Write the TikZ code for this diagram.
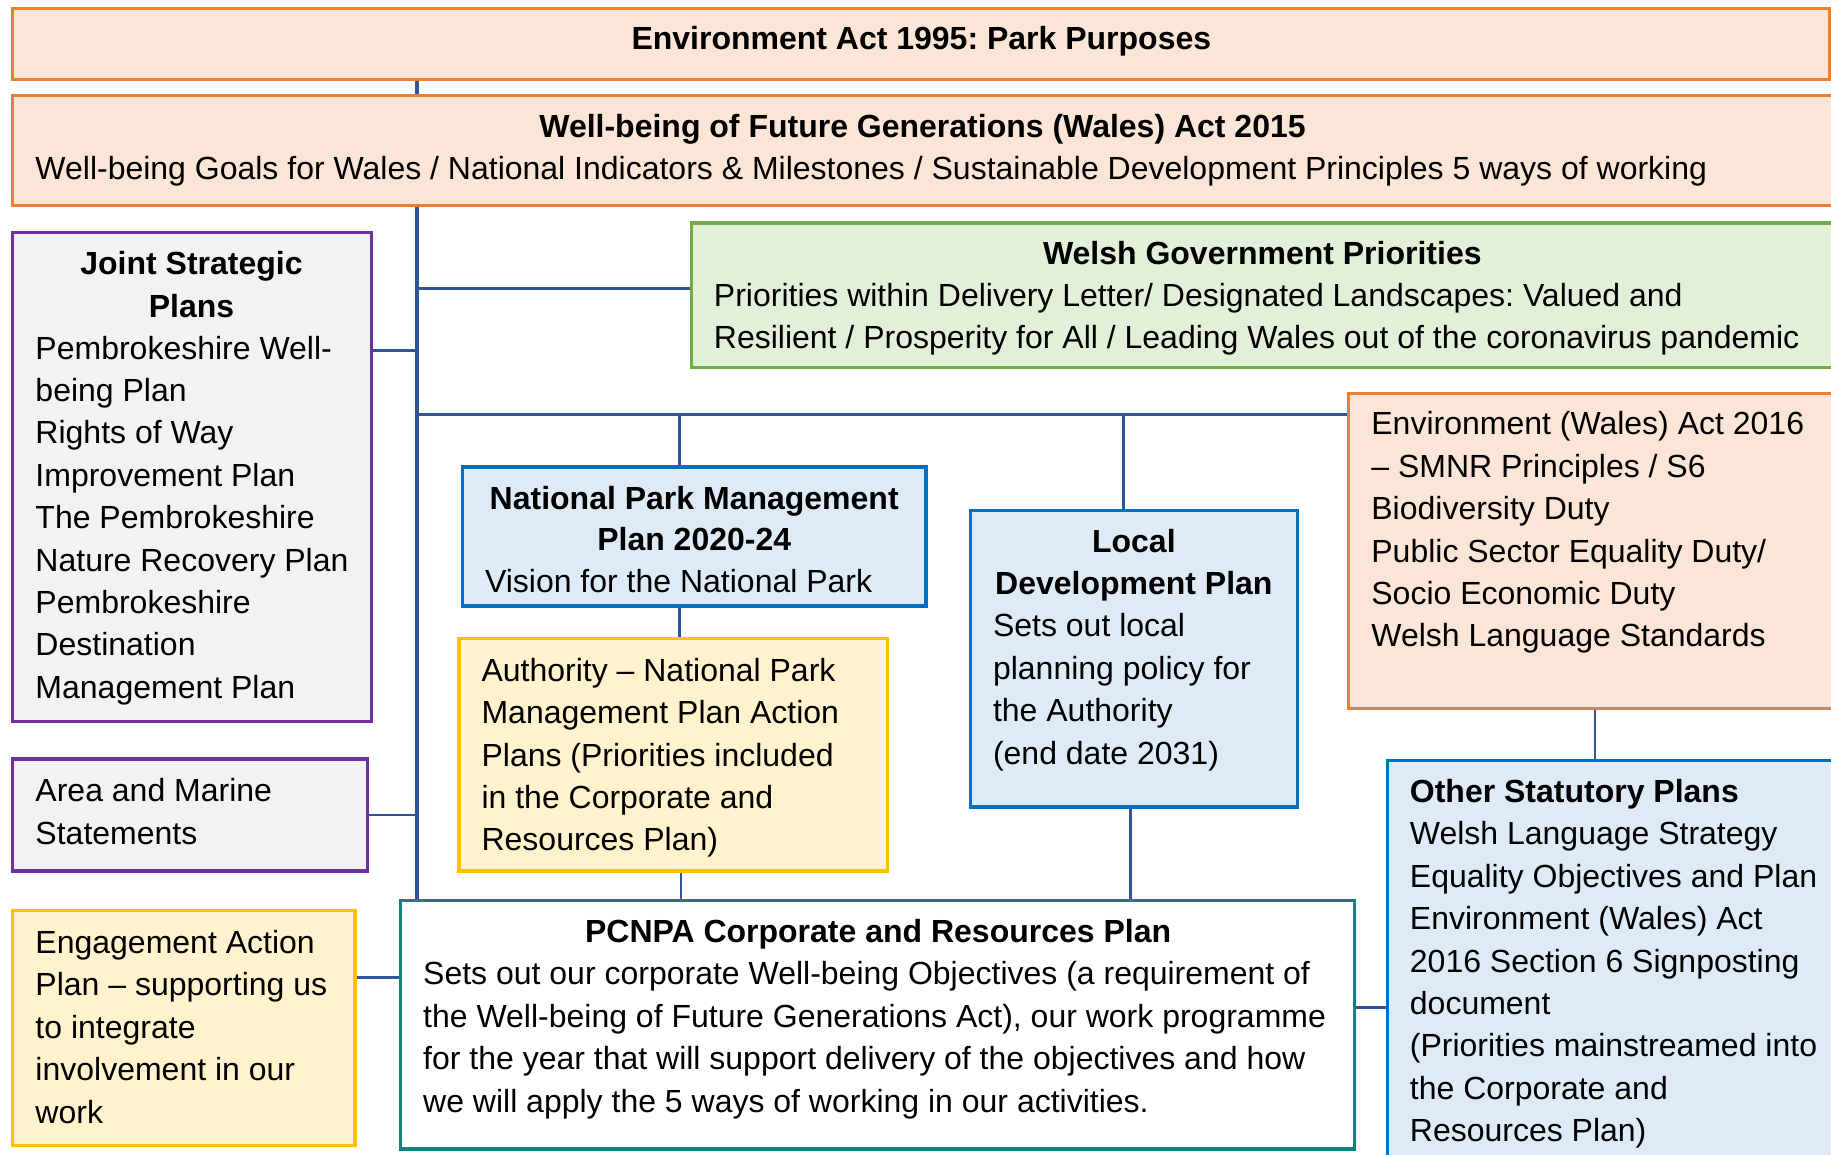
\documentclass[tikz,border=0pt]{standalone}
\usepackage{fontspec}
\setmainfont{Liberation Sans}
\usetikzlibrary{fit,backgrounds}
\frenchspacing
\definecolor{cOr}{HTML}{ED7D31}
\definecolor{cPeach}{HTML}{FBE5D6}
\definecolor{cGr}{HTML}{70AD47}
\definecolor{cGrF}{HTML}{E2F0D9}
\definecolor{cPu}{HTML}{7030A0}
\definecolor{cGray}{HTML}{F2F2F2}
\definecolor{cYe}{HTML}{FFC000}
\definecolor{cYeF}{HTML}{FFF2CC}
\definecolor{cBl}{HTML}{0070C0}
\definecolor{cBlF}{HTML}{DEEBF7}
\definecolor{cTeal}{HTML}{11827D}
\definecolor{cLine}{HTML}{2F5597}
\begin{document}
\begin{tikzpicture}[x=0.5pt,y=-0.5pt,
  box/.style={draw=#1, line width=1.4pt, inner sep=0pt},
  spine/.style={draw=cLine, line width=1.7pt},
  conn/.style={draw=cLine, line width=1.2pt},
  thin/.style={draw=cLine, line width=1pt},
  txt/.style={anchor=base west, inner sep=0pt, font=\fontsize{13.7}{18.15}\selectfont},
  ttl/.style={anchor=base, inner sep=0pt, font=\fontsize{13.7}{18.15}\selectfont\bfseries},
  ttlw/.style={anchor=base west, inner sep=0pt, font=\fontsize{13.7}{18.15}\selectfont\bfseries}]
\useasboundingbox (0,0) rectangle (1568,989);
\clip (0,0) rectangle (1568,989);

% boxes
\node[box=cOr, fill=cPeach, fit={(11,7) (1567,68)}] (top) {};
\node[box=cOr, fill=cPeach, fit={(11,82) (1585,176)}] (wfg) {};
\node[box=cPu, fill=cGray, fit={(11,199) (318,618)}] (jsp) {};
\node[box=cGr, fill=cGrF, fit={(592,191) (1585,315)}] (wg) {};
\node[box=cPu, fill=cGray, fit={(11,650) (315,746)}] (area) {};
\node[box=cYe, fill=cYeF, fit={(11,780) (304,981)}] (eng) {};
\node[box=cBl, fill=cBlF, fit={(396,400) (793,519)}] (npmp) {};
\node[box=cYe, fill=cYeF, fit={(393,547) (760,746)}] (auth) {};
\node[box=cBl, fill=cBlF, fit={(831,437) (1111,691)}] (ldp) {};
\node[box=cOr, fill=cPeach, fit={(1155,337) (1585,607)}] (env) {};
\node[box=cBl, fill=cBlF, fit={(1188,651) (1585,1010)}] (other) {};
\node[box=cTeal, fill=white, fit={(343,771) (1160,984)}] (pcnpa) {};

% connectors
\coordinate (spx) at (357,0);
\coordinate (jwg) at (357,247);
\coordinate (jjsp) at (357,300);
\coordinate (jbr) at (357,355);
\coordinate (dnp) at (582,355);
\coordinate (dld) at (962,355);
\coordinate (jeng) at (343,837);
\coordinate (jot) at (1160,863);
\coordinate (xa) at (583,0);
\coordinate (xl) at (968,0);
\coordinate (xe) at (1366,0);
\begin{scope}[on background layer]
\fill[white] (0,0) rectangle (1568,989);
\draw[spine] (top.south -| spx) -- (pcnpa.north -| spx);
\draw[conn] (jwg) -- (jwg -| wg.west);
\draw[conn] (jjsp -| jsp.east) -- (jjsp);
\draw[conn] (area.east) -- (area.east -| spx);
\draw[conn] (jeng -| eng.east) -- (jeng);
\draw[conn] (jbr) -- (jbr -| env.west);
\draw[thin] (dnp) -- (dnp |- npmp.north);
\draw[thin] (dld) -- (dld |- ldp.north);
\draw[thin] (npmp.south -| dnp) -- (auth.north -| dnp);
\draw[thin] (auth.south -| xa) -- (pcnpa.north -| xa);
\draw[thin] (ldp.south -| xl) -- (pcnpa.north -| xl);
\draw[thin] (env.south -| xe) -- (other.north -| xe);
\draw[conn] (jot) -- (jot -| other.west);
\end{scope}

% texts
\node[ttl] (t-top) at (789,42.5) {Environment Act 1995: Park Purposes};
\node[ttl] (t-wfg) at (790,117.5) {Well-being of Future Generations (Wales) Act 2015};
\node[txt] (b-wfg) at (30,153.5) {Well-being Goals for Wales / National Indicators \& Milestones / Sustainable Development Principles 5 ways of working};
\node[ttl] (t-wg) at (1081,226.5) {Welsh Government Priorities};
\node[txt] (b-wg1) at (611,262.5) {Priorities within Delivery Letter/ Designated Landscapes: Valued and};
\node[txt] (b-wg2) at (611,298.5) {Resilient / Prosperity for All / Leading Wales out of the coronavirus pandemic};
\node[ttl] (t-jsp1) at (164,235.5) {Joint Strategic};
\node[ttl] (t-jsp2) at (164,271.5) {Plans};
\foreach \t [count=\i] in {Pembrokeshire Well-, being Plan, Rights of Way, Improvement Plan, The Pembrokeshire, Nature Recovery Plan, Pembrokeshire, Destination, Management Plan}
  \node[txt] (b-jsp\i) at (30,{307.5+36.3*(\i-1)}) {\t};
\foreach \t [count=\i] in {Area and Marine, Statements}
  \node[txt] (b-area\i) at (30,{686.5+36.3*(\i-1)}) {\t};
\foreach \t [count=\i] in {Engagement Action, Plan – supporting us, to integrate, involvement in our, work}
  \node[txt] (b-eng\i) at (30,{816.5+36.3*(\i-1)}) {\t};
\node[ttl] (t-np1) at (594.5,436.5) {National Park Management};
\node[ttl] (t-np2) at (594.5,471.5) {Plan 2020-24};
\node[txt] (b-np) at (415,507.5) {Vision for the National Park};
\foreach \t [count=\i] in {Authority – National Park, Management Plan Action, {Plans (Priorities included}, in the Corporate and, {Resources Plan)}}
  \node[txt] (b-au\i) at (412,{583.5+36.3*(\i-1)}) {\t};
\node[ttl] (t-ld1) at (971,473.5) {Local};
\node[ttl] (t-ld2) at (971,509.5) {Development Plan};
\foreach \t [count=\i] in {Sets out local, planning policy for, the Authority, {(end date 2031)}}
  \node[txt] (b-ld\i) at (850,{545.5+36.3*(\i-1)}) {\t};
\foreach \t [count=\i] in {{Environment (Wales) Act 2016}, – SMNR Principles / S6, Biodiversity Duty, Public Sector Equality Duty/, Socio Economic Duty, Welsh Language Standards}
  \node[txt] (b-env\i) at (1174,{372.5+36.3*(\i-1)}) {\t};
\node[ttl] (t-pc) at (752,807.5) {PCNPA Corporate and Resources Plan};
\foreach \t [count=\i] in {{Sets out our corporate Well-being Objectives (a requirement of}, {the Well-being of Future Generations Act), our work programme}, for the year that will support delivery of the objectives and how, we will apply the 5 ways of working in our activities.}
  \node[txt] (b-pc\i) at (362,{843.5+36.3*(\i-1)}) {\t};
\node[ttlw] (t-ot) at (1207,687.5) {Other Statutory Plans};
\foreach \t [count=\i] in {Welsh Language Strategy, Equality Objectives and Plan, {Environment (Wales) Act}, 2016 Section 6 Signposting, document, {(Priorities mainstreamed into}, the Corporate and, {Resources Plan)}}
  \node[txt] (b-ot\i) at (1207,{723.5+36.3*(\i-1)}) {\t};
\end{tikzpicture}
\end{document}
